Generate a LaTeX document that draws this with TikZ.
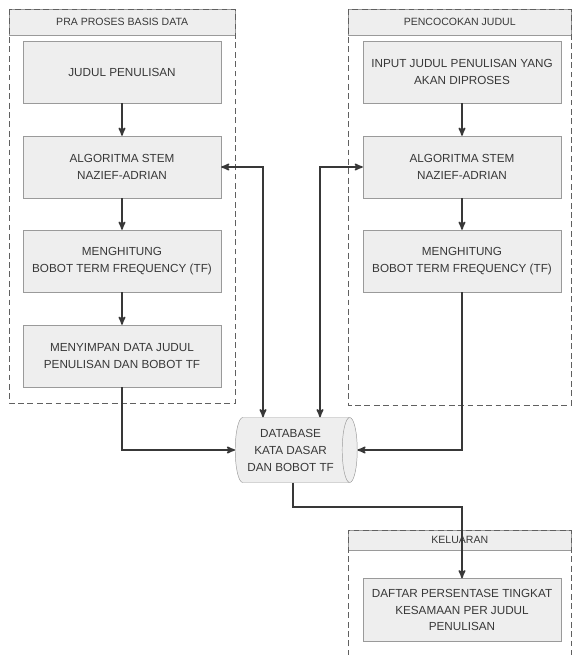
\documentclass[tikz,border=0pt]{standalone}
\usepackage{fontspec}
\setmainfont{Liberation Sans}
\usepackage{tikz}
\usetikzlibrary{arrows}
\usetikzlibrary{shapes.geometric}

\definecolor{boxfill}{HTML}{EEEEEE}
\definecolor{boxline}{HTML}{9A9A9A}
\definecolor{inkgray}{HTML}{383838}

\begin{document}
\begin{tikzpicture}[x=0.03cm,y=-0.03cm,>=stealth',
        step box/.style={rectangle,draw=boxline,fill=boxfill,minimum width=5.94cm,
                         minimum height=1.86cm,align=center,text=inkgray,
                         font=\fontsize{10}{14}\selectfont},
        db store/.style={cylinder,shape border rotate=0,aspect=0.3,draw=boxline,
                         fill=boxfill,minimum width=1.95cm,minimum height=3.66cm,
                         align=center,text=inkgray,font=\fontsize{10}{14.5}\selectfont},
        lane/.style={draw=inkgray!80,line width=0.8pt,dash pattern=on 5pt off 3pt},
        lane head/.style={rectangle,draw=boxline,fill=boxfill,anchor=north west,
                          minimum height=0.78cm,text=inkgray,font=\fontsize{9}{11}\selectfont},
        link/.style={->,draw=inkgray,line width=1.4pt}]
    \useasboundingbox (0,0) rectangle (573,655);
    \clip (0,0) rectangle (573,655);

    % lanes
    \node[lane head,minimum width=6.78cm] (hPra) at (9,9) {PRA PROSES BASIS DATA};
    \node[lane head,minimum width=6.69cm] (hCocok) at (348,9) {PENCOCOKAN JUDUL};
    \node[lane head,minimum width=6.69cm,minimum height=0.6cm] (hKeluar) at (348,530) {KELUARAN};
    \draw[lane] (9,9) rectangle (235,403);
    \draw[lane] (348,9) rectangle (571,405);
    \draw[lane] (348,665) -- (348,530) -- (571,530) -- (571,665);

    % steps
    \node[step box] (jud) at (122,72) {JUDUL PENULISAN};
    \node[step box] (stemA) at (122,167) {ALGORITMA STEM\\NAZIEF-ADRIAN};
    \node[step box] (tfA) at (122,261) {MENGHITUNG\\BOBOT TERM FREQUENCY (TF)};
    \node[step box] (simpan) at (122,356) {MENYIMPAN DATA JUDUL\\PENULISAN DAN BOBOT TF};
    \node[step box] (input) at (462,72) {INPUT JUDUL PENULISAN YANG\\AKAN DIPROSES};
    \node[step box] (stemB) at (462,167) {ALGORITMA STEM\\NAZIEF-ADRIAN};
    \node[step box] (tfB) at (462,261) {MENGHITUNG\\BOBOT TERM FREQUENCY (TF)};
    \node[db store,anchor=west] (db) at (235,450) {DATABASE\\KATA DASAR\\DAN BOBOT TF};
    \node[step box,minimum height=1.89cm] (hasil) at (462,610) {DAFTAR PERSENTASE TINGKAT\\KESAMAAN PER JUDUL\\PENULISAN};

    % connectors
    \path[link]
        (jud) edge (stemA)
        (stemA) edge (tfA)
        (tfA) edge (simpan)
        (input) edge (stemB)
        (stemB) edge (tfB);
    \draw[link] (simpan) |- (db);
    \draw[link] (tfB) |- (db);
    \draw[link,<->] (stemA) -| (263,0 |- db.north);
    \draw[link,<->] (stemB) -| (320,0 |- db.north);
    \draw[link] (293,0 |- db.south) -- ++(0,24) -| (hasil);
\end{tikzpicture}
\end{document}
